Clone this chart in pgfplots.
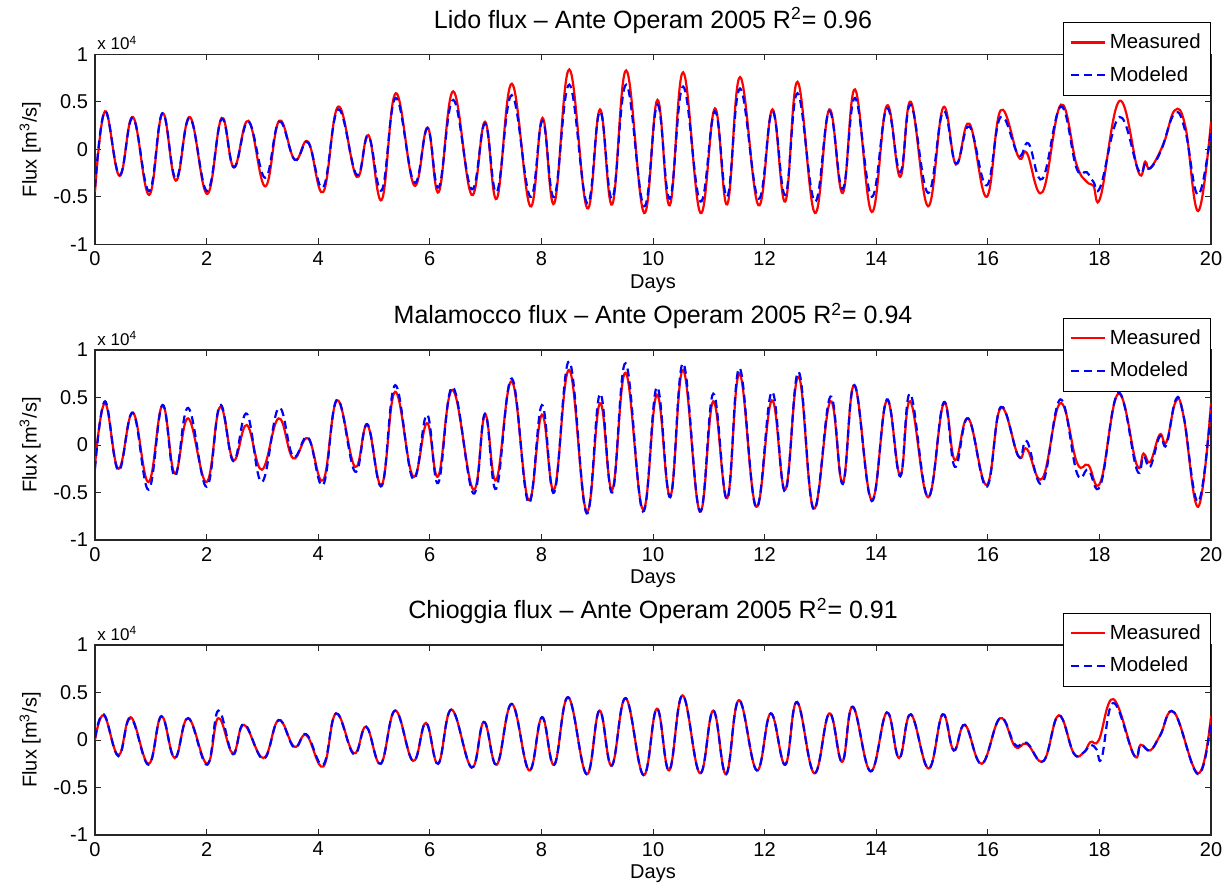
\documentclass[border=0pt]{standalone}
\usepackage{fontspec}
\setmainfont{Liberation Sans}
\usepackage{pgfplots}
\pgfplotsset{compat=1.18}
\definecolor{mred}{RGB}{255,0,0}
\definecolor{mblue}{RGB}{0,0,255}
\pgfplotsset{
 panel/.style={
   scale only axis,width=558pt,height=95pt,
   xmin=0,xmax=20,ymin=-1,ymax=1,
   xtick={0,2,...,20},ytick={-1,-0.5,0,0.5,1},
   tick align=inside,major tick length=3pt,tick pos=both,
   axis line style={line width=0.6pt,draw=black!85},
   every tick/.style={black!85,line width=0.5pt},
   tick label style={font=\fontsize{10}{11}\selectfont},
   /pgf/number format/assume math mode=true,
   xlabel={Days},ylabel={Flux [m\textsuperscript{3}/s]},
   label style={font=\fontsize{10.5}{12}\selectfont},
   every axis x label/.style={at={(axis description cs:0.5,-0.205)},anchor=center},
   every axis y label/.style={at={(axis description cs:-0.058,0.5)},rotate=90,anchor=center},
   title style={font=\fontsize{12.5}{14}\selectfont,at={(0.5,1)},anchor=south,yshift=1pt},
   legend cell align=left,
   legend style={at={(1,1)},anchor=north east,yshift=16pt,draw=black,fill=white,
     font=\fontsize{10.2}{11}\selectfont,row sep=3.5pt,inner ysep=3.5pt,inner xsep=3pt},
   extra description/.code={\node[anchor=south west,font=\fontsize{8.5}{9}\selectfont,inner sep=1pt] at (0,1.01) {x 10\textsuperscript{4}};},
   clip=true
 },
 meas/.style={mred,line width=1.1pt,smooth,tension=0.7},
 mod/.style={mblue,line width=1.1pt,dash pattern=on 4pt off 2.5pt,smooth,tension=0.7}
}
\begin{document}
\begin{tikzpicture}
\useasboundingbox (0,0) rectangle (612pt,-446pt);

% Lido
\begin{axis}[panel,at={(47.5pt,-27.15pt)},anchor=north west,
 title={Lido flux -- Ante Operam 2005 R\textsuperscript{2}= 0.96}]
\addplot[meas] coordinates {
(0,-0.45) (0.18,0.40) (0.44,-0.28) (0.68,0.34) (0.97,-0.48) (1.21,0.38) (1.45,-0.33) (1.70,0.34) (2.01,-0.47) (2.27,0.33) (2.49,-0.19) (2.75,0.30) (3.05,-0.39) (3.30,0.30) (3.58,-0.11) (3.82,0.08) (4.09,-0.45) (4.36,0.45) (4.69,-0.29) (4.90,0.15) (5.14,-0.53) (5.39,0.59) (5.72,-0.38) (5.96,0.23) (6.16,-0.45) (6.42,0.61) (6.75,-0.48) (6.99,0.29) (7.20,-0.52) (7.47,0.69) (7.80,-0.60) (8.02,0.33) (8.23,-0.57) (8.50,0.84) (8.82,-0.62) (9.05,0.42) (9.27,-0.58) (9.52,0.83) (9.84,-0.67) (10.08,0.52) (10.30,-0.59) (10.54,0.81) (10.85,-0.67) (11.11,0.43) (11.33,-0.58) (11.56,0.76) (11.89,-0.59) (12.14,0.42) (12.37,-0.55) (12.59,0.71) (12.90,-0.67) (13.16,0.42) (13.40,-0.46) (13.62,0.63) (13.92,-0.66) (14.19,0.46) (14.43,-0.29) (14.62,0.50) (14.93,-0.60) (15.20,0.44) (15.43,-0.16) (15.67,0.27) (15.98,-0.50) (16.23,0.41) (16.55,-0.08) (16.70,-0.04) (16.98,-0.45) (17.31,0.47) (17.59,-0.16) (17.77,-0.34) (17.89,-0.38) (18.02,-0.50) (18.36,0.51) (18.70,-0.24) (18.82,-0.13) (18.91,-0.20) (19.15,0.06) (19.35,0.41) (19.54,0.24) (19.77,-0.65) (20,0.29)
};
\addlegendentry{Measured}
\addplot[mod] coordinates {
(0,-0.40) (0.18,0.40) (0.44,-0.27) (0.68,0.33) (0.97,-0.44) (1.21,0.38) (1.45,-0.31) (1.70,0.33) (2.01,-0.44) (2.27,0.32) (2.49,-0.19) (2.75,0.29) (3.05,-0.30) (3.30,0.29) (3.58,-0.11) (3.82,0.07) (4.09,-0.40) (4.36,0.42) (4.69,-0.27) (4.90,0.14) (5.14,-0.43) (5.39,0.54) (5.72,-0.35) (5.96,0.22) (6.16,-0.40) (6.42,0.52) (6.75,-0.42) (6.99,0.27) (7.20,-0.45) (7.47,0.57) (7.80,-0.50) (8.02,0.30) (8.23,-0.50) (8.50,0.68) (8.82,-0.57) (9.05,0.40) (9.27,-0.52) (9.52,0.68) (9.84,-0.60) (10.08,0.47) (10.30,-0.52) (10.54,0.66) (10.85,-0.55) (11.11,0.40) (11.33,-0.50) (11.56,0.64) (11.89,-0.52) (12.14,0.40) (12.37,-0.48) (12.59,0.59) (12.90,-0.55) (13.16,0.40) (13.40,-0.42) (13.62,0.54) (13.92,-0.50) (14.19,0.43) (14.43,-0.24) (14.62,0.47) (14.93,-0.46) (15.20,0.40) (15.43,-0.15) (15.67,0.24) (15.98,-0.38) (16.23,0.34) (16.55,-0.06) (16.73,0.06) (16.98,-0.31) (17.31,0.45) (17.59,-0.20) (17.77,-0.24) (17.89,-0.34) (18.02,-0.39) (18.36,0.34) (18.70,-0.22) (18.82,-0.16) (18.91,-0.20) (19.10,-0.02) (19.35,0.38) (19.54,0.19) (19.77,-0.48) (20,0.20)
};
\addlegendentry{Modeled}
\end{axis}

% Malamocco
\begin{axis}[panel,at={(47.5pt,-175pt)},anchor=north west,
 title={Malamocco flux -- Ante Operam 2005 R\textsuperscript{2}= 0.94}]
\addplot[meas] coordinates {
(0,-0.21) (0.18,0.44) (0.42,-0.25) (0.68,0.34) (0.96,-0.39) (1.21,0.42) (1.43,-0.30) (1.67,0.28) (2.00,-0.39) (2.24,0.40) (2.48,-0.16) (2.72,0.21) (2.99,-0.26) (3.29,0.28) (3.55,-0.14) (3.82,0.07) (4.09,-0.37) (4.34,0.47) (4.66,-0.23) (4.88,0.21) (5.14,-0.42) (5.38,0.56) (5.70,-0.33) (5.95,0.23) (6.15,-0.33) (6.41,0.58) (6.78,-0.47) (6.99,0.32) (7.19,-0.37) (7.47,0.67) (7.77,-0.58) (8.01,0.32) (8.23,-0.47) (8.50,0.79) (8.81,-0.70) (9.05,0.44) (9.27,-0.47) (9.51,0.76) (9.82,-0.68) (10.07,0.53) (10.31,-0.54) (10.54,0.79) (10.84,-0.70) (11.08,0.46) (11.33,-0.56) (11.55,0.75) (11.85,-0.65) (12.13,0.47) (12.37,-0.47) (12.61,0.72) (12.88,-0.67) (13.18,0.46) (13.40,-0.40) (13.61,0.63) (13.92,-0.58) (14.19,0.47) (14.43,-0.32) (14.61,0.46) (14.93,-0.55) (15.21,0.44) (15.41,-0.16) (15.65,0.28) (15.98,-0.42) (16.23,0.39) (16.55,-0.12) (16.70,-0.04) (16.98,-0.35) (17.30,0.44) (17.60,-0.19) (17.80,-0.21) (18.02,-0.39) (18.34,0.54) (18.67,-0.21) (18.79,-0.09) (18.91,-0.18) (19.08,0.11) (19.20,0.03) (19.37,0.46) (19.51,0.30) (19.77,-0.65) (20,0.44)
};
\addlegendentry{Measured}
\addplot[mod] coordinates {
(0,-0.25) (0.18,0.46) (0.42,-0.27) (0.68,0.34) (0.96,-0.47) (1.21,0.42) (1.43,-0.33) (1.67,0.39) (2.00,-0.44) (2.24,0.42) (2.48,-0.17) (2.72,0.33) (2.99,-0.39) (3.29,0.39) (3.55,-0.12) (3.82,0.08) (4.09,-0.42) (4.34,0.48) (4.66,-0.28) (4.88,0.22) (5.14,-0.43) (5.38,0.63) (5.70,-0.36) (5.95,0.32) (6.15,-0.40) (6.41,0.61) (6.78,-0.51) (6.99,0.33) (7.19,-0.46) (7.47,0.70) (7.77,-0.61) (8.01,0.42) (8.23,-0.50) (8.50,0.88) (8.81,-0.72) (9.05,0.54) (9.27,-0.50) (9.51,0.86) (9.82,-0.70) (10.07,0.61) (10.31,-0.55) (10.54,0.86) (10.84,-0.70) (11.08,0.54) (11.33,-0.57) (11.55,0.81) (11.85,-0.66) (12.13,0.56) (12.37,-0.49) (12.61,0.77) (12.88,-0.68) (13.18,0.51) (13.40,-0.41) (13.61,0.63) (13.92,-0.59) (14.19,0.48) (14.43,-0.33) (14.61,0.54) (14.93,-0.55) (15.21,0.45) (15.41,-0.23) (15.65,0.28) (15.98,-0.44) (16.23,0.40) (16.55,-0.12) (16.70,0.04) (16.98,-0.40) (17.30,0.48) (17.60,-0.30) (17.80,-0.26) (18.02,-0.42) (18.34,0.55) (18.67,-0.26) (18.79,-0.12) (18.91,-0.23) (19.08,0.09) (19.20,0.00) (19.37,0.48) (19.51,0.30) (19.77,-0.60) (20,0.40)
};
\addlegendentry{Modeled}
\end{axis}

% Chioggia
\begin{axis}[panel,at={(47.5pt,-322.5pt)},anchor=north west,
 title={Chioggia flux -- Ante Operam 2005 R\textsuperscript{2}= 0.91}]
\addplot[meas] coordinates {
(0,0.00) (0.16,0.26) (0.42,-0.16) (0.64,0.24) (0.96,-0.25) (1.19,0.25) (1.43,-0.19) (1.67,0.23) (2.01,-0.25) (2.21,0.23) (2.47,-0.14) (2.67,0.16) (3.02,-0.19) (3.29,0.21) (3.57,-0.07) (3.79,0.05) (4.09,-0.28) (4.32,0.28) (4.64,-0.14) (4.86,0.14) (5.12,-0.25) (5.38,0.31) (5.70,-0.22) (5.93,0.18) (6.15,-0.25) (6.39,0.32) (6.75,-0.29) (6.97,0.19) (7.20,-0.26) (7.47,0.38) (7.78,-0.32) (8.01,0.24) (8.23,-0.26) (8.48,0.45) (8.81,-0.36) (9.04,0.31) (9.26,-0.27) (9.51,0.44) (9.83,-0.37) (10.07,0.33) (10.29,-0.32) (10.53,0.47) (10.84,-0.35) (11.08,0.31) (11.31,-0.36) (11.54,0.42) (11.86,-0.32) (12.11,0.28) (12.37,-0.26) (12.58,0.40) (12.89,-0.35) (13.16,0.28) (13.39,-0.23) (13.58,0.35) (13.90,-0.33) (14.19,0.29) (14.41,-0.19) (14.62,0.27) (14.94,-0.30) (15.19,0.27) (15.39,-0.11) (15.59,0.16) (15.89,-0.25) (16.22,0.23) (16.49,-0.07) (16.70,-0.04) (17.00,-0.22) (17.27,0.26) (17.54,-0.14) (17.72,-0.13) (17.84,-0.02) (17.99,0.00) (18.25,0.43) (18.62,-0.16) (18.74,-0.05) (18.91,-0.11) (19.09,0.05) (19.34,0.29) (19.77,-0.35) (20,0.25)
};
\addlegendentry{Measured}
\addplot[mod] coordinates {
(0,0.02) (0.16,0.27) (0.42,-0.17) (0.64,0.23) (0.96,-0.26) (1.19,0.25) (1.43,-0.19) (1.67,0.23) (2.01,-0.26) (2.21,0.31) (2.47,-0.15) (2.67,0.17) (3.02,-0.20) (3.29,0.21) (3.57,-0.08) (3.79,0.06) (4.09,-0.26) (4.32,0.28) (4.64,-0.15) (4.86,0.14) (5.12,-0.25) (5.38,0.31) (5.70,-0.22) (5.93,0.18) (6.15,-0.25) (6.39,0.32) (6.75,-0.29) (6.97,0.19) (7.20,-0.26) (7.47,0.38) (7.78,-0.32) (8.01,0.24) (8.23,-0.26) (8.48,0.45) (8.81,-0.36) (9.04,0.31) (9.26,-0.27) (9.51,0.44) (9.83,-0.37) (10.07,0.33) (10.29,-0.32) (10.53,0.47) (10.84,-0.35) (11.08,0.31) (11.31,-0.36) (11.54,0.42) (11.86,-0.32) (12.11,0.28) (12.37,-0.26) (12.58,0.40) (12.89,-0.35) (13.16,0.28) (13.39,-0.23) (13.58,0.35) (13.90,-0.33) (14.19,0.29) (14.41,-0.19) (14.62,0.27) (14.94,-0.30) (15.19,0.27) (15.39,-0.11) (15.59,0.16) (15.89,-0.25) (16.22,0.23) (16.49,-0.05) (16.70,-0.03) (17.00,-0.22) (17.27,0.26) (17.54,-0.14) (17.72,-0.13) (17.84,-0.05) (17.95,-0.10) (18.04,-0.19) (18.25,0.39) (18.62,-0.16) (18.74,-0.05) (18.91,-0.11) (19.09,0.05) (19.34,0.29) (19.77,-0.36) (20,0.22)
};
\addlegendentry{Modeled}
\end{axis}
\end{tikzpicture}
\end{document}
